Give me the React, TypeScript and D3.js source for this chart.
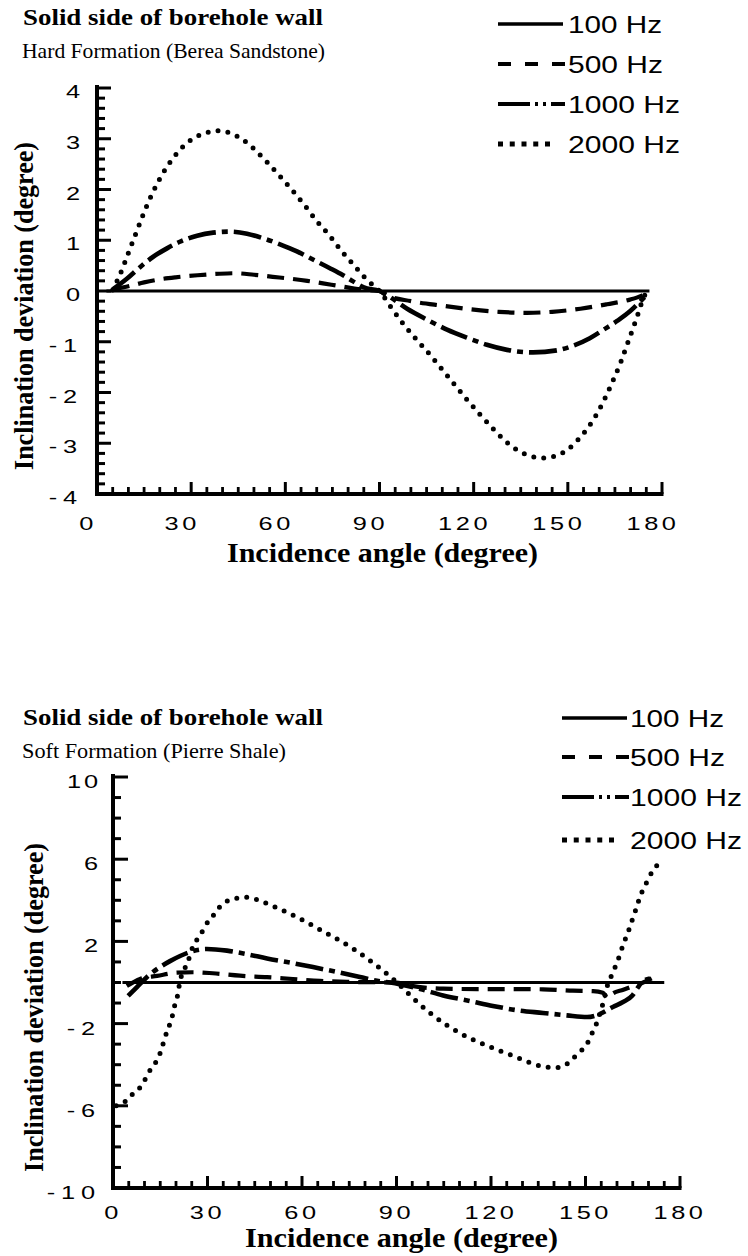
import React from 'react';
import * as d3 from 'd3';

// ---- data: [incidence angle (deg), inclination deviation (deg)] ----
const hard100 = [[3, 0], [60, 0], [120, 0], [176, 0]];
const hard500 = [[5, 0.03], [10.5, 0.1], [15, 0.17], [20, 0.23], [25, 0.27], [32, 0.31], [39, 0.34], [44, 0.35], [50, 0.32], [56, 0.28], [62, 0.24], [67, 0.2], [72, 0.15], [77, 0.1], [82, 0.05], [86, 0.02], [90, 0], [92, -0.08], [100, -0.2], [110, -0.29], [119, -0.36], [128, -0.41], [137, -0.43], [145, -0.41], [154, -0.35], [162.5, -0.26], [169.8, -0.17], [173.6, -0.09], [175.5, -0.03]];
const hard1000 = [[5, 0.03], [9.5, 0.24], [13.7, 0.47], [17.8, 0.67], [22.3, 0.84], [26.4, 0.97], [31.9, 1.09], [37, 1.15], [42.4, 1.17], [47.8, 1.13], [52.9, 1.04], [58.3, 0.92], [63.7, 0.78], [68.8, 0.62], [74.2, 0.45], [78.4, 0.31], [81.6, 0.19], [85, 0.07], [90, 0], [92.4, -0.08], [98.8, -0.35], [105, -0.56], [111.5, -0.76], [117.9, -0.92], [124.2, -1.06], [130.6, -1.16], [138.9, -1.21], [146.5, -1.17], [151.6, -1.08], [157, -0.93], [161.2, -0.77], [165.7, -0.59], [169.8, -0.4], [173, -0.21], [175.5, -0.05]];
const hard2000 = [[5, 0.02], [7.5, 0.35], [10, 0.75], [12.5, 1.15], [15, 1.55], [18, 1.97], [21.5, 2.37], [24.5, 2.64], [27.5, 2.85], [30.5, 3.0], [34, 3.1], [38, 3.16], [42, 3.12], [46, 3.0], [50, 2.8], [54, 2.55], [58, 2.28], [62, 2.0], [66, 1.7], [70, 1.38], [74, 1.1], [78, 0.78], [82, 0.5], [86, 0.22], [90, 0], [94, -0.35], [98, -0.68], [102, -0.97], [106, -1.25], [110, -1.55], [114, -1.85], [118, -2.15], [122, -2.43], [126, -2.7], [130, -2.95], [134, -3.14], [138, -3.25], [142, -3.29], [146, -3.25], [150, -3.12], [154, -2.88], [158, -2.55], [161, -2.22], [164, -1.82], [167, -1.38], [169.5, -0.95], [172, -0.52], [174, -0.15], [175.5, 0.02]];

const soft100 = [[3, 0], [60, 0], [120, 0], [175, 0]];
const soft500 = [[4.4, -0.17], [8.6, 0.17], [14, 0.32], [20.3, 0.48], [25.4, 0.5], [31.7, 0.45], [40.3, 0.33], [48.9, 0.26], [57.1, 0.17], [65.7, 0.08], [74.3, 0.03], [90, 0], [94.3, -0.15], [104.8, -0.3], [115.6, -0.32], [126, -0.32], [136.5, -0.33], [146, -0.4], [152.4, -0.42], [155.5, -0.5], [157, -0.75], [158.5, -0.55], [162, -0.35], [165, -0.18], [168.3, 0.0], [171, 0.2]];
const soft1000 = [[4.8, -0.65], [7.6, -0.22], [10.8, 0.27], [14.9, 0.75], [18.1, 1.04], [21.3, 1.29], [25.4, 1.53], [29.8, 1.63], [36.2, 1.55], [42.5, 1.38], [48.9, 1.17], [56.2, 0.97], [63.5, 0.75], [71.1, 0.51], [78.4, 0.27], [83.8, 0.08], [88, 0], [97.5, -0.32], [104.8, -0.63], [113.3, -0.9], [120.6, -1.14], [128.3, -1.35], [136.5, -1.48], [144.1, -1.6], [150.5, -1.68], [154.6, -1.53], [158.7, -1.19], [161.9, -0.95], [164.8, -0.65], [166.3, -0.32], [167.9, 0.02], [170.5, 0.2]];
const soft2000 = [[1, -6.0], [3.8, -5.8], [6.4, -5.4], [9.6, -4.9], [11.2, -4.4], [13.3, -3.96], [14.9, -3.47], [15.9, -2.99], [17.1, -2.4], [18.1, -2.0], [19, -1.53], [19.7, -1.04], [20.6, -0.56], [21.1, -0.07], [21.9, 0.41], [23.5, 0.9], [24.5, 1.35], [25.4, 1.77], [27.6, 2.26], [29.2, 2.74], [31.7, 3.23], [34, 3.7], [37.8, 4.05], [42.5, 4.15], [46.7, 3.98], [50.8, 3.72], [55.2, 3.42], [59.4, 3.1], [63.5, 2.76], [68, 2.38], [72.5, 2.0], [76.5, 1.62], [80.4, 1.2], [84, 0.78], [87.9, 0.3], [90.5, -0.05], [94.3, -0.62], [97.5, -1.08], [101.6, -1.6], [106, -2.08], [110, -2.45], [114, -2.76], [118.5, -3.06], [123.5, -3.36], [128, -3.63], [132, -3.88], [136, -4.07], [140.3, -4.15], [143.5, -4.02], [145.5, -3.78], [147.6, -3.45], [150.5, -2.99], [152, -2.5], [153.5, -2.0], [154.5, -1.53], [155.5, -1.04], [156.3, -0.56], [157.1, -0.07], [158.5, 0.41], [159.8, 0.9], [161, 1.38], [162, 1.87], [163.3, 2.35], [164.6, 2.94], [165.7, 3.42], [166.7, 3.9], [167.9, 4.4], [169.5, 4.9], [171.1, 5.37], [173.7, 5.85]];

const legendLabels = ['100 Hz', '500 Hz', '1000 Hz', '2000 Hz'];
const xTickLabels = [0, 30, 60, 90, 120, 150, 180];
const hardYTicks = [4, 3, 2, 1, 0, -1, -2, -3, -4];
const softYTicks = [10, 6, 2, -2, -6, -10];

const SERIF = '"Liberation Serif", "Times New Roman", serif';
const SANS = '"Liberation Sans", Arial, sans-serif';

// line styles in plot / in legend, per series index
const curveStyles = [
  { dash: undefined, width: 3.2, cap: 'butt' },
  { dash: '17 9', width: 4.2, cap: 'butt' },
  { dash: '28 6 6 6', width: 4.6, cap: 'butt' },
  { dash: '0 10', width: 5, cap: 'round' },
];
const legendStyles = [
  { dash: undefined, len: 65, width: 3.5 },
  { dash: '13 14', len: 67, width: 4 },
  { dash: '32 5 3 5 3 5 14', len: 67, width: 4 },
  { dash: '5 6.75', len: 52, width: 5 },
];
const legendWidths = [94, 95, 112, 112];

function FitText({ x, y, w, size, family, weight, anchor, children, transform }: any) {
  return (
    <text x={x} y={y} fontSize={size} fontFamily={family} fontWeight={weight || 'normal'}
      textLength={w} lengthAdjust="spacingAndGlyphs" textAnchor={anchor || 'start'} transform={transform} fill="#000">
      {children}
    </text>
  );
}

function Chart({ cfg, series }: any) {
  const x = d3.scaleLinear().domain([0, 180]).range(cfg.xRange);
  const y = d3.scaleLinear().domain(cfg.yDomain).range(cfg.yRange);
  const line = d3.line<number[]>().x(d => x(d[0])).y(d => y(d[1])).curve(d3.curveMonotoneX);

  const xMinor = d3.range(5, 180, 5).filter(a => a % 30 !== 0);
  const xMajor = d3.range(30, 181, 30);
  const yAll = d3.range(cfg.yDomain[0], cfg.yDomain[1] + 1e-6, cfg.yStep).map(v => +v.toFixed(3));
  const isMajor = (v: number) => cfg.yMajor.some((m: number) => Math.abs(m - v) < 1e-6);
  const x0 = cfg.xRange[0];
  const yBase = y(cfg.yDomain[0]);
  const yTop = y(cfg.yDomain[1]);

  return (
    <g>
      <FitText x={23} y={cfg.titleY} w={300} size={23} family={SERIF} weight="bold">Solid side of borehole wall</FitText>
      <FitText x={22} y={cfg.subY} w={cfg.subW} size={22} family={SERIF}>{cfg.subText}</FitText>

      {/* legend */}
      {legendLabels.map((lab, i) => (
        <g key={lab}>
          <line x1={cfg.legendX} x2={cfg.legendX + legendStyles[i].len} y1={cfg.legendY[i]} y2={cfg.legendY[i]}
            stroke="#000" strokeWidth={legendStyles[i].width} strokeDasharray={legendStyles[i].dash} />
          <FitText x={cfg.legendTextX} y={cfg.legendY[i] + 9} w={legendWidths[i]} size={24} family={SANS}>{lab}</FitText>
        </g>
      ))}

      {/* curves */}
      {series.map((s: number[][], i: number) => (
        <path key={i} d={line(s) || ''} fill="none" stroke="#000" strokeWidth={curveStyles[i].width}
          strokeDasharray={curveStyles[i].dash} strokeLinecap={curveStyles[i].cap as any} strokeLinejoin="round" />
      ))}

      {/* y axis ticks */}
      {yAll.map(v => (
        <line key={'yt' + v} x1={x0} x2={x0 + (isMajor(v) ? cfg.yMajorLen : cfg.yMinorLen)} y1={y(v)} y2={y(v)}
          stroke="#000" strokeWidth={3} />
      ))}
      {/* x axis ticks */}
      {xMinor.map(a => (
        <line key={'xm' + a} x1={x(a)} x2={x(a)} y1={yBase} y2={yBase - 7} stroke="#000" strokeWidth={2.8} />
      ))}
      {xMajor.map(a => (
        <line key={'xM' + a} x1={x(a)} x2={x(a)} y1={yBase} y2={yBase - 12} stroke="#000" strokeWidth={3} />
      ))}
      {/* axis lines */}
      <line x1={x0} x2={x0} y1={yTop - 3} y2={yBase + 2} stroke="#000" strokeWidth={4} />
      <line x1={x0 - 2} x2={x(180) + 1.5} y1={yBase} y2={yBase} stroke="#000" strokeWidth={4} />

      {/* tick labels */}
      {cfg.yLabels.map((v: number) => (
        <text key={'yl' + v} transform={`translate(${cfg.yLabelX},${y(v) + cfg.yLabelDy}) scale(1.45,1)`}
          textAnchor="end" fontSize={17.5} fontFamily={SANS} letterSpacing={v < 0 ? 4 : 2} dx={2}>{v}</text>
      ))}
      {xTickLabels.map(a => (
        <text key={'xl' + a} transform={`translate(${x(a) + cfg.xLabelDx},${cfg.xLabelY}) scale(1.45,1)`}
          textAnchor="middle" fontSize={17.5} fontFamily={SANS} letterSpacing={2.5}>{a}</text>
      ))}

      {/* axis titles */}
      <FitText x={cfg.xTitle.x} y={cfg.xTitle.y} w={cfg.xTitle.w} size={28} family={SERIF} weight="bold">Incidence angle (degree)</FitText>
      <FitText x={0} y={0} w={cfg.yTitle.y1 - cfg.yTitle.y0} size={27} family={SERIF} weight="bold" anchor="middle"
        transform={`translate(${cfg.yTitle.x},${(cfg.yTitle.y0 + cfg.yTitle.y1) / 2}) rotate(-90)`}>Inclination deviation (degree)</FitText>
    </g>
  );
}

const hardCfg = {
  xRange: [97, 662], yDomain: [-4, 4], yRange: [494, 88], yStep: 0.2, yMajor: [-4, -3, -2, -1, 0, 1, 2, 3, 4],
  yMajorLen: 14, yMinorLen: 8, yLabels: hardYTicks, yLabelX: 80, yLabelDy: 10, xLabelDx: -9, xLabelY: 530,
  titleY: 25, subY: 58, subW: 303, subText: 'Hard Formation (Berea Sandstone)',
  legendX: 498, legendTextX: 568, legendY: [24, 64, 104, 144],
  xTitle: { x: 227, y: 562, w: 311 }, yTitle: { x: 33, y0: 142, y1: 470 },
};
const softCfg = {
  xRange: [113, 680], yDomain: [-10, 10], yRange: [1188, 777], yStep: 1, yMajor: [-10, -6, -2, 2, 6, 10],
  yMajorLen: 15, yMinorLen: 8, yLabels: softYTicks, yLabelX: 98, yLabelDy: 11, xLabelDx: 0, xLabelY: 1219,
  titleY: 725, subY: 758, subW: 264, subText: 'Soft Formation (Pierre Shale)',
  legendX: 562, legendTextX: 630, legendY: [718, 757, 797, 840],
  xTitle: { x: 245, y: 1247, w: 313 }, yTitle: { x: 43, y0: 843, y1: 1172 },
};

export default function App() {
  return (
    <svg width={748} height={1256} viewBox="0 0 748 1256"
      style={{ position: 'absolute', left: 0, top: 0, background: '#fff', display: 'block' }}>
      <rect x={0} y={0} width={748} height={1256} fill="#fff" />
      <Chart cfg={hardCfg} series={[hard100, hard500, hard1000, hard2000]} />
      <Chart cfg={softCfg} series={[soft100, soft500, soft1000, soft2000]} />
    </svg>
  );
}
